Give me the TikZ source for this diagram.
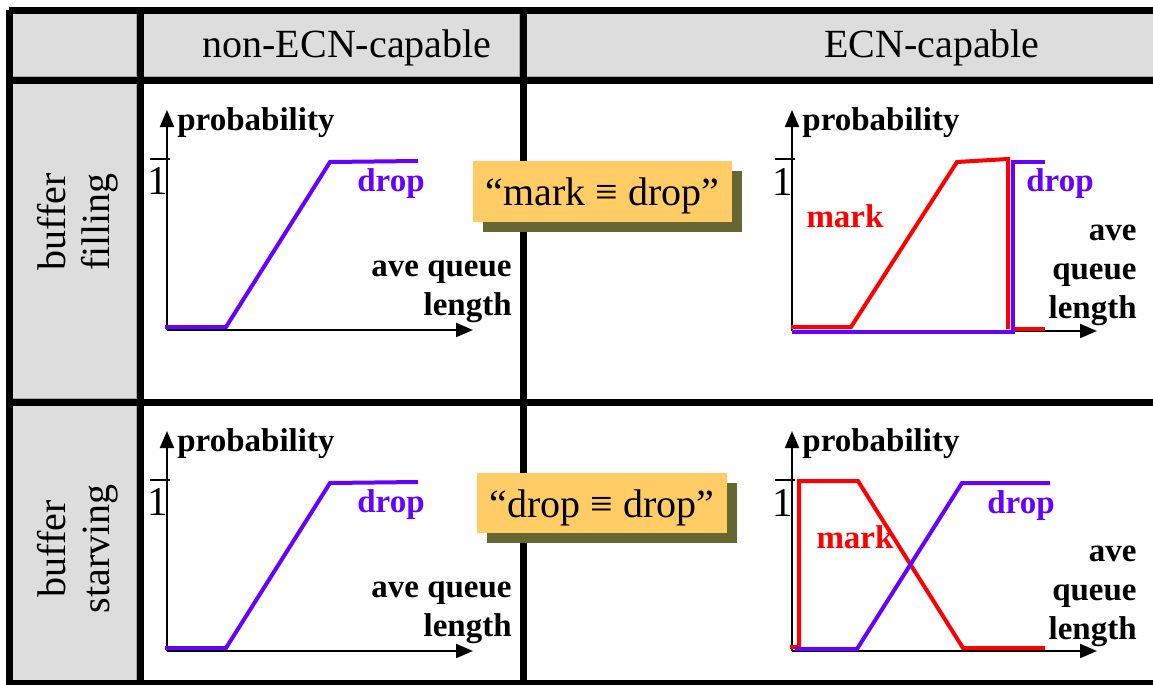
\documentclass[tikz,border=0pt]{standalone}
\usepackage{fontspec}
\setmainfont{Liberation Serif}
\usetikzlibrary{arrows.meta,shadows}
\definecolor{dropcol}{HTML}{6600FF}
\definecolor{markcol}{HTML}{FF0000}
\definecolor{cellgray}{HTML}{DDDDDD}
\definecolor{boxfill}{HTML}{FFCC66}
\definecolor{boxshade}{HTML}{666633}
\begin{document}
\begin{tikzpicture}[x=0.5pt,y=-0.5pt]

\tikzset{gridline/.style={line width=3.5pt},}
\tikzset{graycell/.style={fill=cellgray,draw=gray!70,line width=0.6pt},}
\tikzset{axis/.style={-{Triangle[length=8.5pt,width=7pt]},line width=1pt},}
\tikzset{dropline/.style={dropcol,line width=2pt},}
\tikzset{markline/.style={markcol,line width=2pt},}
\tikzset{boldlab/.style={font=\fontsize{16.5}{19.5}\selectfont\bfseries,inner sep=0pt},}
\tikzset{head/.style={font=\fontsize{20}{22}\selectfont,inner sep=0pt},}
\tikzset{one/.style={font=\fontsize{20.5}{22}\selectfont,inner sep=0pt},}
\tikzset{callout/.style={fill=boxfill,font=\fontsize{20}{22}\selectfont,inner sep=0pt,
  text height=14pt,text depth=0pt,
  drop shadow={shadow xshift=5pt,shadow yshift=-5pt,fill=boxshade,opacity=1}},}

\useasboundingbox (0,0) rectangle (1153,685);
\clip (0,0) rectangle (1153,685);

% table
\draw[graycell] (12.5,13.5) rectangle (136.5,76.5);
\draw[graycell] (143.5,13.5) rectangle (519.5,76.5);
\draw[graycell] (526.5,13.5) rectangle (1160,76.5);
\draw[graycell] (12.5,83.5) rectangle (136.5,398.5);
\draw[graycell] (12.5,405.5) rectangle (136.5,690);

\draw[gridline] (9,10) -- (1160,10) (9,80) -- (1160,80) (9,402) -- (1160,402) (9,683) -- (1160,683);
\draw[gridline] (9,10) -- (9,690) (140,10) -- (140,690) (523,10) -- (523,690);

\draw
	(347,57) node[head,anchor=base] (hnon) {non-ECN-capable}
	(932,57) node[head,anchor=base] (hecn) {ECN-capable}
	(78,222) node[head,rotate=90,align=center] (rfill) {buffer\\filling}
	(78,549) node[head,rotate=90,align=center] (rstarve) {buffer\\starving};

% filling, non-ECN
\coordinate (oa) at (167,330);
\draw[axis] (oa) -- (167,110);
\draw[axis] (oa) -- (473,330);
\draw[line width=1pt] (150,159) -- (170,159);
\draw[dropline] (165,327) -- (226,327) -- (330,162) -- (418,161);
\draw
	(177,130) node[boldlab,anchor=base west] (pa) {probability}
	(158,181) node[one] (na) {1}
	(391,191) node[boldlab,anchor=base,dropcol] (da) {drop}
	(512,292) node[boldlab,anchor=east,align=right] (la) {ave queue\\length};

% filling, ECN
\coordinate (ob) at (792,331);
\draw[axis] (ob) -- (792,110);
\draw[axis] (ob) -- (1097,331);
\draw[line width=1pt] (775,159) -- (795,159);
\draw[markline] (791,327) -- (851,327) -- (957,162) -- (1008,159) -- (1008,329);
\draw[markline] (1015,329) -- (1045,329);
\draw[dropline] (792,332) -- (1013,332) -- (1013,162) -- (1045,162);
\draw
	(802,130) node[boldlab,anchor=base west] (pb) {probability}
	(783,182) node[one] (nb) {1}
	(845,227) node[boldlab,anchor=base,markcol] (mb) {mark}
	(1060,191) node[boldlab,anchor=base,dropcol] (db) {drop}
	(1137,275) node[boldlab,anchor=east,align=right] (lb) {ave\\queue\\length};

% starving, non-ECN
\coordinate (oc) at (167,651);
\draw[axis] (oc) -- (167,431);
\draw[axis] (oc) -- (473,651);
\draw[line width=1pt] (150,480) -- (170,480);
\draw[dropline] (165,648) -- (226,648) -- (330,483) -- (418,482);
\draw
	(177,451) node[boldlab,anchor=base west] (pc) {probability}
	(158,502) node[one] (nc) {1}
	(391,512) node[boldlab,anchor=base,dropcol] (dc) {drop}
	(512,613) node[boldlab,anchor=east,align=right] (lc) {ave queue\\length};

% starving, ECN
\coordinate (od) at (792,651);
\draw[axis] (od) -- (792,431);
\draw[axis] (od) -- (1097,651);
\draw[line width=1pt] (775,480) -- (795,480);
\draw[markline] (790,647) -- (799,647) -- (799,481) -- (858,481) -- (963,648) -- (1045,648);
\draw[dropline] (795,649) -- (857,649) -- (962,483) -- (1050,483);
\draw
	(802,451) node[boldlab,anchor=base west] (pd) {probability}
	(783,503) node[one] (nd) {1}
	(855,548) node[boldlab,anchor=base,markcol] (md) {mark}
	(1021,513) node[boldlab,anchor=base,dropcol] (dd) {drop}
	(1137,596) node[boldlab,anchor=east,align=right] (ld) {ave\\queue\\length};

% callouts
\node[callout,minimum width=129.5pt,minimum height=30.5pt] (cfill) at (602.5,191.5) {“mark ≡ drop”};
\node[callout,minimum width=125pt,minimum height=30pt] (cstarve) at (602,503) {“drop ≡ drop”};

\end{tikzpicture}
\end{document}
